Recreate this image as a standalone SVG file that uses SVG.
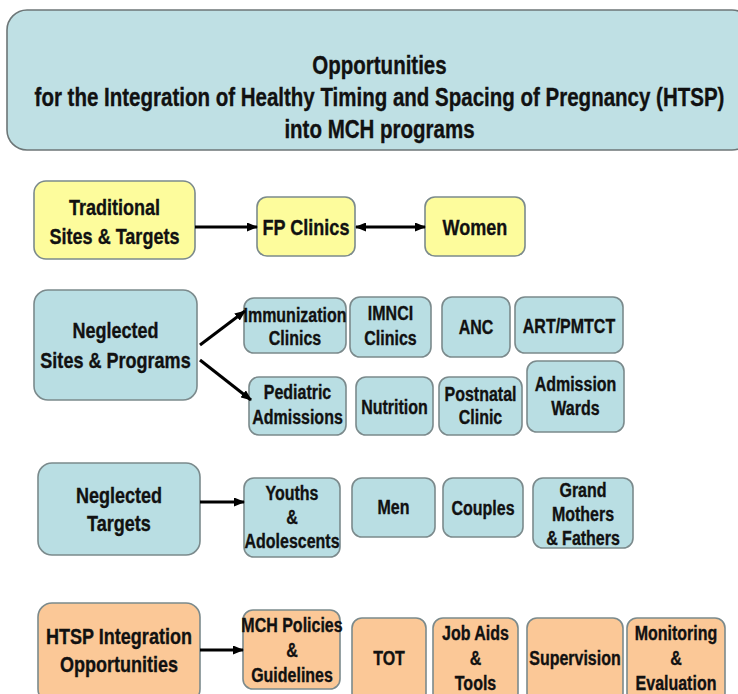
<svg xmlns="http://www.w3.org/2000/svg" width="738" height="694" viewBox="0 0 738 694">
<style>
.box{stroke:#7b8a8c;stroke-width:1.6}
.blue{fill:#b9dee3}
.yel{fill:#fdfc9c}
.org{fill:#fbc897}
.t{font-family:"Liberation Sans",Arial,sans-serif;font-weight:bold;fill:#111;stroke:#111;stroke-width:0.35;text-anchor:middle;transform-box:fill-box;transform-origin:center;transform:scaleX(0.82)}
.ti{font-size:25px}
.l{font-size:22px}
.s{font-size:19.5px}
.c{stroke:#000;stroke-width:3;fill:none}
</style>
<defs>
<marker id="ah" markerUnits="userSpaceOnUse" markerWidth="11" markerHeight="9" refX="10" refY="4.5" orient="auto-start-reverse">
<path d="M0,0 L11,4.5 L0,9 z" fill="#000"/>
</marker>
</defs>
<rect width="738" height="694" fill="#fff"/>
<g id="title">
<rect class="box blue" x="7" y="10" width="745" height="140" rx="20" style="fill:#bfe0e4;stroke:#6d7677"/>
<text class="t ti" x="379.5" y="74">Opportunities</text>
<text class="t ti" x="379.5" y="106">for the Integration of Healthy Timing and Spacing of Pregnancy (HTSP)</text>
<text class="t ti" x="379.5" y="138">into MCH programs</text>
</g>
<g id="traditional">
<rect class="box yel" x="34" y="181" width="161" height="78" rx="12"/>
<text class="t l" x="114.5" y="215">Traditional</text>
<text class="t l" x="114.5" y="244">Sites &amp; Targets</text>
</g>
<g id="fp-clinics">
<rect class="box yel" x="257" y="197" width="98" height="59" rx="10"/>
<text class="t l" x="306" y="235">FP Clinics</text>
</g>
<g id="women">
<rect class="box yel" x="425" y="197" width="100" height="59" rx="10"/>
<text class="t l" x="475" y="235">Women</text>
</g>
<g id="neglected-sites">
<rect class="box blue" x="34" y="290" width="163" height="110" rx="14"/>
<text class="t l" x="115.5" y="338">Neglected</text>
<text class="t l" x="115.5" y="368">Sites &amp; Programs</text>
</g>
<g id="immunization">
<rect class="box blue" x="244" y="298" width="102" height="55" rx="10"/>
<text class="t s" x="295" y="322">Immunization</text>
<text class="t s" x="295" y="345">Clinics</text>
</g>
<g id="imnci">
<rect class="box blue" x="350" y="297" width="81" height="60" rx="10"/>
<text class="t s" x="390.5" y="320">IMNCI</text>
<text class="t s" x="390.5" y="345">Clinics</text>
</g>
<g id="anc">
<rect class="box blue" x="442" y="297" width="68" height="60" rx="10"/>
<text class="t s" x="476" y="334">ANC</text>
</g>
<g id="art-pmtct">
<rect class="box blue" x="515" y="297" width="108" height="56" rx="10"/>
<text class="t s" x="569" y="333">ART/PMTCT</text>
</g>
<g id="pediatric">
<rect class="box blue" x="249" y="377" width="97" height="58" rx="10"/>
<text class="t s" x="297.5" y="399">Pediatric</text>
<text class="t s" x="297.5" y="424">Admissions</text>
</g>
<g id="nutrition">
<rect class="box blue" x="356" y="377" width="77" height="58" rx="10"/>
<text class="t s" x="394.5" y="414">Nutrition</text>
</g>
<g id="postnatal">
<rect class="box blue" x="439" y="377" width="83" height="58" rx="10"/>
<text class="t s" x="480.5" y="401">Postnatal</text>
<text class="t s" x="480.5" y="424">Clinic</text>
</g>
<g id="admission-wards">
<rect class="box blue" x="527" y="361" width="97" height="71" rx="10"/>
<text class="t s" x="575.5" y="391">Admission</text>
<text class="t s" x="575.5" y="415">Wards</text>
</g>
<g id="neglected-targets">
<rect class="box blue" x="38" y="463" width="162" height="92" rx="14"/>
<text class="t l" x="119" y="503">Neglected</text>
<text class="t l" x="119" y="531">Targets</text>
</g>
<g id="youths">
<rect class="box blue" x="244" y="478" width="96" height="79" rx="10"/>
<text class="t s" x="292" y="500">Youths</text>
<text class="t s" x="292" y="524">&amp;</text>
<text class="t s" x="292" y="548">Adolescents</text>
</g>
<g id="men">
<rect class="box blue" x="352" y="478" width="83" height="59" rx="10"/>
<text class="t s" x="393.5" y="514">Men</text>
</g>
<g id="couples">
<rect class="box blue" x="443" y="478" width="80" height="59" rx="10"/>
<text class="t s" x="483" y="515">Couples</text>
</g>
<g id="grandparents">
<rect class="box blue" x="533" y="478" width="100" height="70" rx="10"/>
<text class="t s" x="583" y="497">Grand</text>
<text class="t s" x="583" y="521">Mothers</text>
<text class="t s" x="583" y="545">&amp; Fathers</text>
</g>
<g id="htsp-integration">
<rect class="box org" x="38" y="603" width="162" height="100" rx="14"/>
<text class="t l" x="119" y="644">HTSP Integration</text>
<text class="t l" x="119" y="672">Opportunities</text>
</g>
<g id="mch-policies">
<rect class="box org" x="243" y="610" width="97" height="79" rx="10"/>
<text class="t s" x="292" y="632">MCH Policies</text>
<text class="t s" x="292" y="657">&amp;</text>
<text class="t s" x="292" y="682">Guidelines</text>
</g>
<g id="tot">
<rect class="box org" x="352" y="618" width="74" height="85" rx="10"/>
<text class="t s" x="389" y="665">TOT</text>
</g>
<g id="job-aids">
<rect class="box org" x="433" y="618" width="85" height="85" rx="10"/>
<text class="t s" x="475.5" y="640">Job Aids</text>
<text class="t s" x="475.5" y="665">&amp;</text>
<text class="t s" x="475.5" y="690">Tools</text>
</g>
<g id="supervision">
<rect class="box org" x="527" y="618" width="96" height="85" rx="10"/>
<text class="t s" x="575" y="665">Supervision</text>
</g>
<g id="monitoring">
<rect class="box org" x="627" y="618" width="98" height="85" rx="10"/>
<text class="t s" x="676" y="640">Monitoring</text>
<text class="t s" x="676" y="665">&amp;</text>
<text class="t s" x="676" y="690">Evaluation</text>
</g>
<g id="connectors">
<line class="c" x1="195" y1="227" x2="257" y2="227" marker-end="url(#ah)"/>
<line class="c" x1="356" y1="227" x2="425" y2="227" marker-start="url(#ah)" marker-end="url(#ah)"/>
<line class="c" x1="200" y1="345" x2="245" y2="311" marker-end="url(#ah)"/>
<line class="c" x1="200" y1="360" x2="251" y2="400" marker-end="url(#ah)"/>
<line class="c" x1="200" y1="502" x2="244" y2="502" marker-end="url(#ah)"/>
<line class="c" x1="200" y1="650" x2="243" y2="650" marker-end="url(#ah)"/>
</g>
</svg>
